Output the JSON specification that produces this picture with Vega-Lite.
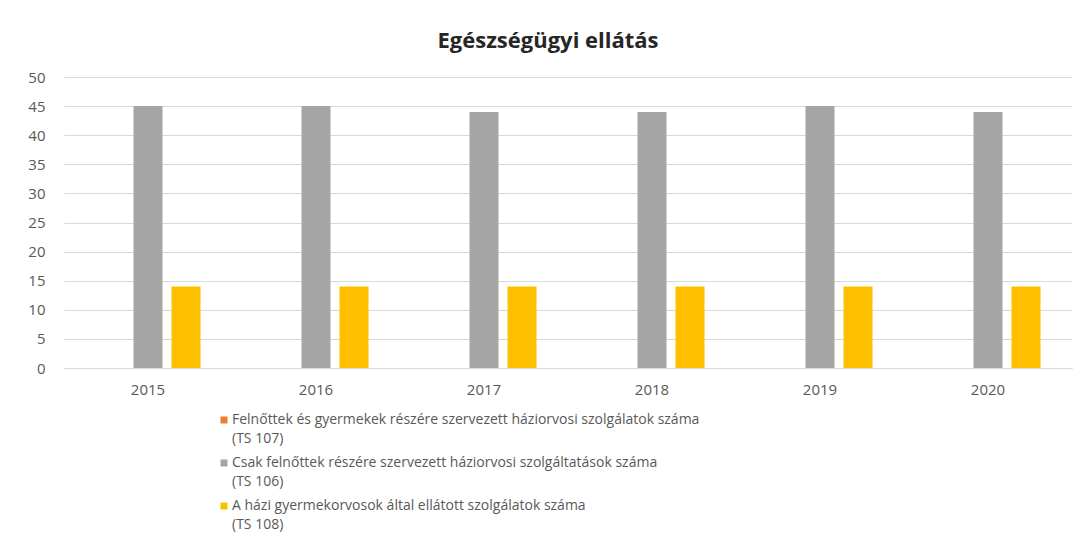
{
  "$schema": "https://vega.github.io/schema/vega-lite/v6.json",
  "autosize": {"type": "none"},
  "width": 1008,
  "height": 291,
  "padding": {"left": 64, "top": 77, "right": 15, "bottom": 192},
  "background": "white",
  "title": {
    "text": "Egészségügyi ellátás",
    "font": "Open Sans",
    "fontSize": 22,
    "fontWeight": "bold",
    "color": "#262626",
    "anchor": "middle",
    "dx": -20,
    "offset": 17
  },
  "data": {
    "values": [
      {"year": "2015", "series": "TS107", "value": 0},
      {"year": "2015", "series": "TS106", "value": 45},
      {"year": "2015", "series": "TS108", "value": 14},
      {"year": "2016", "series": "TS107", "value": 0},
      {"year": "2016", "series": "TS106", "value": 45},
      {"year": "2016", "series": "TS108", "value": 14},
      {"year": "2017", "series": "TS107", "value": 0},
      {"year": "2017", "series": "TS106", "value": 44},
      {"year": "2017", "series": "TS108", "value": 14},
      {"year": "2018", "series": "TS107", "value": 0},
      {"year": "2018", "series": "TS106", "value": 44},
      {"year": "2018", "series": "TS108", "value": 14},
      {"year": "2019", "series": "TS107", "value": 0},
      {"year": "2019", "series": "TS106", "value": 45},
      {"year": "2019", "series": "TS108", "value": 14},
      {"year": "2020", "series": "TS107", "value": 0},
      {"year": "2020", "series": "TS106", "value": 44},
      {"year": "2020", "series": "TS108", "value": 14}
    ]
  },
  "mark": {"type": "bar"},
  "encoding": {
    "x": {
      "field": "year",
      "type": "nominal",
      "scale": {"paddingInner": 0.375, "paddingOuter": 0.1875},
      "axis": {
        "title": null,
        "labelAngle": 0,
        "labelFont": "Open Sans",
        "labelFontSize": 15,
        "labelColor": "#595959",
        "labelPadding": 14,
        "ticks": false,
        "domainColor": "#d9d9d9",
        "domainWidth": 1
      }
    },
    "xOffset": {
      "field": "series",
      "type": "nominal",
      "scale": {"domain": ["TS107", "TS106", "TS108"], "paddingInner": 0.237, "paddingOuter": 0}
    },
    "y": {
      "field": "value",
      "type": "quantitative",
      "scale": {"domain": [0, 50]},
      "axis": {
        "title": null,
        "values": [0, 5, 10, 15, 20, 25, 30, 35, 40, 45, 50],
        "labelFont": "Open Sans",
        "labelFontSize": 15,
        "labelColor": "#595959",
        "labelPadding": 19,
        "ticks": false,
        "domain": false,
        "gridColor": "#d9d9d9",
        "gridWidth": 1
      }
    },
    "color": {
      "field": "series",
      "type": "nominal",
      "scale": {
        "domain": ["TS107", "TS106", "TS108"],
        "range": ["#ED7D31", "#A5A5A5", "#FFC000"]
      },
      "legend": {
        "title": null,
        "orient": "none",
        "legendX": 153,
        "legendY": 336,
        "direction": "vertical",
        "symbolType": "square",
        "symbolSize": 49,
        "symbolStrokeWidth": 0,
        "labelFont": "Open Sans",
        "labelFontSize": 14,
        "labelColor": "#595959",
        "labelOffset": 1,
        "labelLimit": 900,
        "rowPadding": 10,
        "labelExpr": "datum.label == 'TS107' ? ['Felnőttek és gyermekek részére szervezett háziorvosi szolgálatok száma', '(TS 107)'] : datum.label == 'TS106' ? ['Csak felnőttek részére szervezett háziorvosi szolgáltatások száma', '(TS 106)'] : ['A házi gyermekorvosok által ellátott szolgálatok száma', '(TS 108)']"
      }
    }
  },
  "config": {
    "view": {"stroke": null},
    "style": {"guide-label": {"lineHeight": 19}}
  }
}
